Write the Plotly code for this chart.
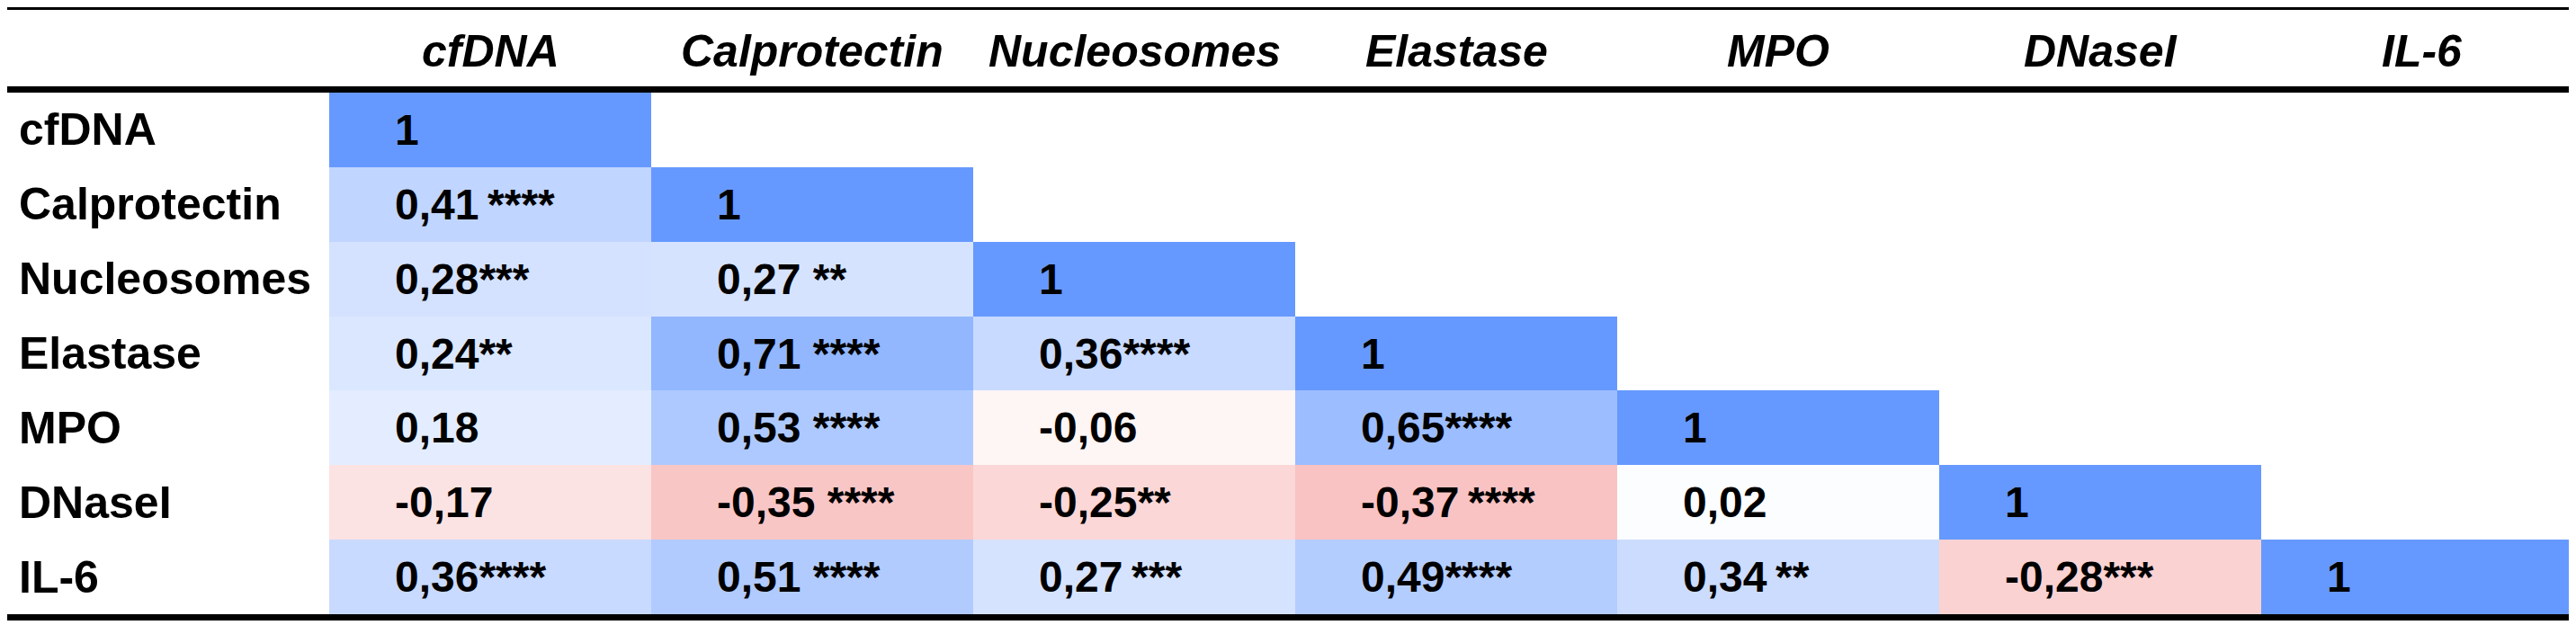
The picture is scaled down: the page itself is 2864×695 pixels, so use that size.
import plotly.graph_objects as go

# Spearman correlation matrix (lower triangle), values
variables = ["cfDNA", "Calprotectin", "Nucleosomes", "Elastase", "MPO", "DNaseI", "IL-6"]

r_lower = [
    [1],
    [0.41, 1],
    [0.28, 0.27, 1],
    [0.24, 0.71, 0.36, 1],
    [0.18, 0.53, -0.06, 0.65, 1],
    [-0.17, -0.35, -0.25, -0.37, 0.02, 1],
    [0.36, 0.51, 0.27, 0.49, 0.34, -0.28, 1],
]

# significance marks as printed (leading space where the table has one)
stars = [
    [""],
    ["\u2009****", ""],
    ["***", " **", ""],
    ["**", " ****", "****", ""],
    ["", " ****", "", "****", ""],
    ["", " ****", "**", "\u2009****", "", ""],
    ["****", " ****", "\u2009***", "****", "\u2009**", "***", ""],
]

W, H = 2864, 695
FONT = "Arial, Liberation Sans, sans-serif"

n = len(variables)
z = [[r_lower[i][j] if j <= i else None for j in range(n)] for i in range(n)]


def fmt(v):
    return "1" if v == 1 else f"{v:.2f}".replace(".", ",")


fig = go.Figure(go.Heatmap(
    z=z, x=variables, y=variables,
    zmin=-1, zmax=1,
    colorscale=[[0, "rgb(239,93,93)"], [0.5, "rgb(255,255,255)"], [1, "rgb(102,153,255)"]],
    showscale=False, xgap=0, ygap=0, hoverinfo="skip",
))

# cell values
for i in range(n):
    for j in range(i + 1):
        fig.add_annotation(
            x=variables[j], y=variables[i], xref="x", yref="y",
            text=fmt(r_lower[i][j]) + stars[i][j],
            showarrow=False, xanchor="left", xshift=-108,
            font=dict(family=FONT, size=48, color="black", weight="bold"),
        )

# column headers
for v in variables:
    fig.add_annotation(
        x=v, y=1 - 48.5 / H, xref="x", yref="paper",
        text=v, showarrow=False, yanchor="middle",
        font=dict(family=FONT, size=50, color="black", weight="bold", style="italic"),
    )

# row labels
for v in variables:
    fig.add_annotation(
        x=11 / W, y=v, xref="paper", yref="y",
        text=v, showarrow=False, xanchor="left",
        font=dict(family=FONT, size=50, color="black", weight="bold"),
    )

# table rules
for yc, lw in [(1.5, 3), (91.5, 7), (678.5, 7)]:
    fig.add_shape(type="line", xref="paper", yref="paper",
                  x0=0, x1=1, y0=1 - yc / H, y1=1 - yc / H,
                  line=dict(color="black", width=lw))

fig.update_xaxes(domain=[358 / W, 1], showticklabels=False, showgrid=False,
                 zeroline=False, showline=False, ticks="")
fig.update_yaxes(domain=[(H - 675) / H, (H - 95) / H], autorange="reversed",
                 showticklabels=False, showgrid=False, zeroline=False,
                 showline=False, ticks="")
fig.update_layout(
    width=W, height=H,
    margin=dict(l=0, r=0, t=0, b=0),
    paper_bgcolor="white", plot_bgcolor="white",
    showlegend=False,
)
fig.write_html("out.html")
